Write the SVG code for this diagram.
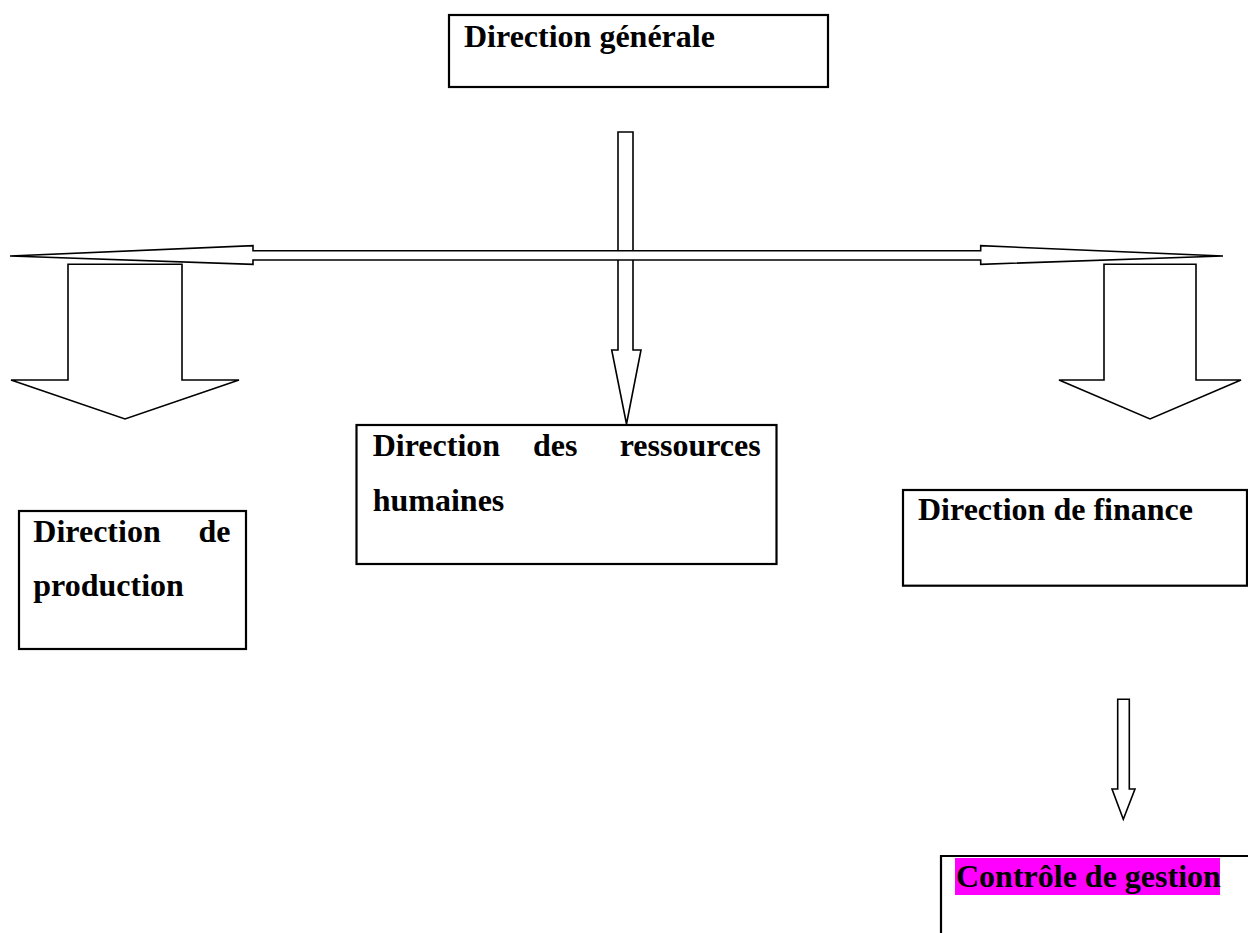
<svg xmlns="http://www.w3.org/2000/svg" width="1248" height="933" viewBox="0 0 1248 933">
  <style>
    .box { fill: #ffffff; stroke: #000000; stroke-width: 2.2; }
    .arrow { fill: #ffffff; stroke: #000000; stroke-width: 1.6; stroke-linejoin: miter; }
    .lbl { font-family: "Liberation Serif", "Times New Roman", serif; font-weight: bold; font-size: 32px; fill: #000000; }
  </style>
  <rect width="1248" height="933" fill="#ffffff"/>

  <g id="connectors">
    <!-- central trunk from the top box down to HR -->
    <polygon class="arrow" points="618,132 633,132 633,350 641,350 626.5,424 611.7,350 618,350"/>
    <!-- horizontal double-headed distribution bar -->
    <polygon class="arrow" points="10,256 253,245.7 253,250.7 980.7,250.7 980.7,245.7 1223,256 980.7,264.3 980.7,260 253,260 253,264.3"/>
    <!-- left block arrow to production -->
    <polygon class="arrow" points="68,264.3 182,264.3 182,380 239,380 125,419 11,380 68,380"/>
    <!-- right block arrow to finance -->
    <polygon class="arrow" points="1104,264.3 1196,264.3 1196,380 1241,380 1150,419 1059,380 1104,380"/>
    <!-- finance to management control -->
    <polygon class="arrow" points="1117.7,699.3 1129.3,699.3 1129.3,789 1135,789 1123.3,819.3 1112,789 1117.7,789"/>
  </g>

  <g id="direction-generale">
    <rect class="box" x="449" y="15" width="379" height="72"/>
    <text class="lbl" x="464" y="47">Direction générale</text>
  </g>

  <g id="direction-rh">
    <rect class="box" x="356.5" y="425" width="420" height="139"/>
    <text class="lbl" x="372.7" y="456">Direction</text>
    <text class="lbl" x="533" y="456">des</text>
    <text class="lbl" x="760.7" y="456" text-anchor="end">ressources</text>
    <text class="lbl" x="372.7" y="510.7">humaines</text>
  </g>

  <g id="direction-production">
    <rect class="box" x="19" y="511" width="227" height="138"/>
    <text class="lbl" x="33.3" y="541.7">Direction</text>
    <text class="lbl" x="230.5" y="541.7" text-anchor="end">de</text>
    <text class="lbl" x="33.3" y="595.5">production</text>
  </g>

  <g id="direction-finance">
    <rect class="box" x="903" y="490" width="344" height="95.7"/>
    <text class="lbl" x="918" y="520">Direction de finance</text>
  </g>

  <g id="controle-gestion">
    <path class="box" d="M941,936 L941,856 L1250,856"/>
    <rect x="955" y="858" width="265" height="37" fill="#ff00ff"/>
    <text class="lbl" x="956" y="886.5">Contrôle de gestion</text>
  </g>
</svg>
